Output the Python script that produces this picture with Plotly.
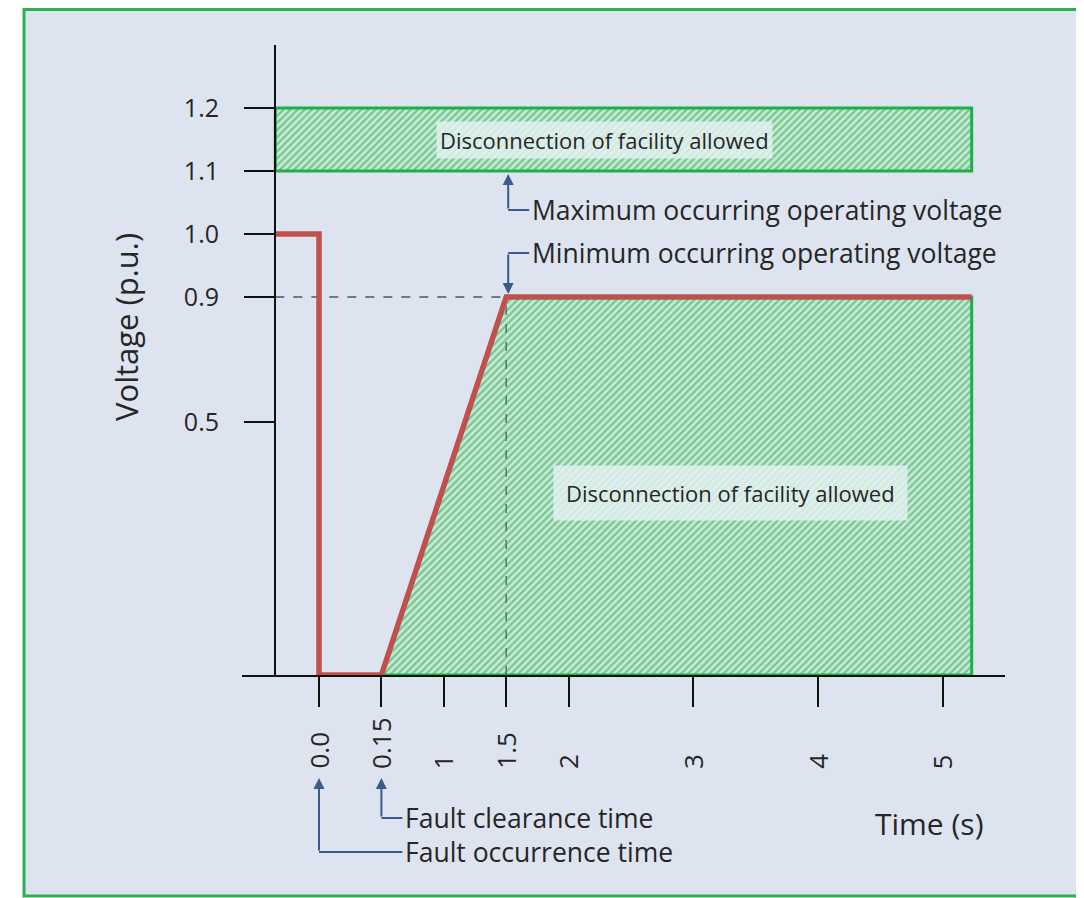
import numpy as np
import plotly.graph_objects as go

# ---------------- data ----------------
time_ticks = [0.0, 0.15, 1, 1.5, 2, 3, 4, 5]
time_tick_labels = ["0.0", "0.15", "1", "1.5", "2", "3", "4", "5"]
volt_ticks = [1.2, 1.1, 1.0, 0.9, 0.5]
volt_tick_labels = ["1.2", "1.1", "1.0", "0.9", "0.5"]

t_pre = -0.105      # start of the pre-fault period (drawn at the voltage axis)
t_end = 5.23        # end of the drawn period
curve_time = [t_pre, 0.0, 0.0, 0.15, 1.5, t_end]
curve_volt = [1.0, 1.0, 0.0, 0.0, 0.9, 0.9]

upper_band_time = [t_pre, t_end, t_end, t_pre, t_pre]
upper_band_volt = [1.1, 1.1, 1.2, 1.2, 1.1]

lower_region_time = [0.15, 1.5, t_end, t_end, 0.15]
lower_region_volt = [0.0, 0.9, 0.9, 0.0, 0.0]

v_min_op = 0.9
v_max_op = 1.1
t_fault = 0.0
t_clear = 0.15
t_recover = 1.5

# ---------------- schematic (piecewise) scales ----------------
TIME_KNOTS = [-0.105, 0.0, 0.15, 1.0, 6.0]
TIME_DISP = [-0.35, 0.0, 0.5, 1.0, 6.0]
VOLT_KNOTS = [0.0, 0.5, 0.9, 1.2, 1.5]
VOLT_DISP = [0.0, 2.53, 3.78, 5.67, 7.56]


def X(t):
    return np.interp(t, TIME_KNOTS, TIME_DISP)


def Y(v):
    return np.interp(v, VOLT_KNOTS, VOLT_DISP)


# plot-area geometry (page pixels; the page body has an 8px margin)
W, H = 1084, 898
OFF = 8
PL, PR, PT, PB = 242, 1005, 45, 675
ML, MR, MT, MB = PL - OFF, W - (PR - OFF), PT - OFF, H - (PB - OFF)
PW = PR - PL
PH = PB - PT
XR = [-0.617, 5.497]
YR = [0.0, 6.30]
XS = PW / (XR[1] - XR[0])   # px per x unit
YS = PH / (YR[1] - YR[0])   # px per y unit


def py_paper(py):
    return (PB - py) / PH


def px_paper(px):
    return (px - PL) / PW


FONT = "'Open Sans', Lato, sans-serif"
TXT = "#262626"
GREEN = "#22ad4b"
RED = "#c0504d"
NAVY = "#3b5b8c"

fig = go.Figure()

pattern = dict(shape="/", fgcolor="#3a9a58", bgcolor="#c4eed4", size=5, solidity=0.48)

fig.add_trace(go.Scatter(
    x=X(upper_band_time), y=Y(upper_band_volt), mode="lines", fill="toself",
    fillcolor="rgba(0,0,0,0)", fillpattern=pattern,
    line=dict(color=GREEN, width=3), hoverinfo="skip", showlegend=False))

fig.add_trace(go.Scatter(
    x=X(lower_region_time), y=Y(lower_region_volt), mode="lines", fill="toself",
    fillcolor="rgba(0,0,0,0)", fillpattern=pattern,
    line=dict(color=GREEN, width=3), hoverinfo="skip", showlegend=False))

# dashed guides
fig.add_trace(go.Scatter(
    x=X([t_pre, t_recover]), y=Y([v_min_op, v_min_op]), mode="lines",
    line=dict(color="#6f7a86", width=2, dash="dash"), hoverinfo="skip", showlegend=False))
fig.add_trace(go.Scatter(
    x=X([t_recover, t_recover]), y=Y([0.0, v_min_op]), mode="lines",
    line=dict(color="#4f7a5f", width=1.5, dash="dash"), hoverinfo="skip", showlegend=False))

# voltage curve
fig.add_trace(go.Scatter(
    x=X(curve_time), y=Y(curve_volt), mode="lines",
    line=dict(color=RED, width=5.5), hoverinfo="skip", showlegend=False))

shapes = []
annotations = []

# outer frame
shapes.append(dict(type="rect", xref="paper", yref="paper",
                   x0=px_paper(24), x1=px_paper(1080), y0=py_paper(896), y1=py_paper(9.5),
                   fillcolor="#dde4ef", line=dict(color="#2eb052", width=3), layer="below"))

# x tick labels (rotated, bottom aligned)
for t, lab in zip(time_ticks, time_tick_labels):
    annotations.append(dict(x=float(X(t)), xref="x", y=py_paper(771), yref="paper",
                            text=lab, textangle=-90, showarrow=False,
                            xanchor="center", yanchor="bottom",
                            font=dict(family=FONT, size=26, color=TXT)))

# axis titles
annotations.append(dict(x=px_paper(126), y=py_paper(327), xref="paper", yref="paper",
                        text="Voltage (p.u.)", textangle=-90, showarrow=False,
                        xanchor="center", yanchor="middle",
                        font=dict(family=FONT, size=31, color=TXT)))
annotations.append(dict(x=px_paper(929), y=py_paper(823), xref="paper", yref="paper",
                        text="Time (s)", showarrow=False,
                        xanchor="center", yanchor="middle",
                        font=dict(family=FONT, size=30, color=TXT)))

# region labels
box_font = dict(family=FONT, size=22, color=TXT)
annotations.append(dict(x=float(X(2.29)), y=float(Y(1.15)), xref="x", yref="y",
                        text="Disconnection of facility allowed", showarrow=False,
                        bgcolor="rgba(228,240,242,0.82)", borderpad=3, font=box_font))
annotations.append(dict(x=float(X(3.3)), y=float(Y(0.36)), xref="x", yref="y",
                        text="Disconnection of facility allowed", showarrow=False,
                        bgcolor="rgba(228,240,242,0.82)", borderpad=12, font=box_font))

# callouts
xr = float(X(t_recover)) + 2 / XS
callouts = [
    # (x tip, y tip, pixel offset of corner below (+) / above (-) the tip, text)
    (xr, float(Y(v_max_op)) - 3 / YS, 36, "Maximum occurring operating voltage"),
    (xr, float(Y(v_min_op)) + 3 / YS, -41, "Minimum occurring operating voltage"),
]
for xt, yt, dpy, txt in callouts:
    yc = yt - dpy / YS
    annotations.append(dict(x=xt, y=yt, xref="x", yref="y", ax=0, ay=dpy,
                            text="", showarrow=True, arrowhead=2, arrowsize=1.1,
                            arrowwidth=2, arrowcolor=NAVY, standoff=0, startstandoff=0))
    shapes.append(dict(type="line", xref="x", yref="y", x0=xt, x1=xt + 21 / XS, y0=yc, y1=yc,
                       line=dict(color=NAVY, width=2)))
    annotations.append(dict(x=xt + 22 / XS, y=yc, xref="x", yref="y", text=txt,
                            showarrow=False, xanchor="left", yanchor="middle",
                            font=dict(family=FONT, size=26.5, color=TXT)))

bottom_callouts = [
    (t_clear, 818, "Fault clearance time"),
    (t_fault, 852, "Fault occurrence time"),
]
TIP_PY = 778
for t, pyc, txt in bottom_callouts:
    xt = float(X(t))
    annotations.append(dict(x=xt, y=py_paper(TIP_PY), xref="x", yref="paper",
                            ax=0, ay=pyc - TIP_PY,
                            text="", showarrow=True, arrowhead=2, arrowsize=1.1,
                            arrowwidth=2, arrowcolor=NAVY, standoff=0, startstandoff=0))
    shapes.append(dict(type="line", xref="x", yref="paper", x0=xt, x1=float(X(0.15)) + 21 / XS,
                       y0=py_paper(pyc), y1=py_paper(pyc), line=dict(color=NAVY, width=2)))
    annotations.append(dict(x=float(X(0.15)) + 22 / XS, y=py_paper(pyc), xref="x", yref="paper",
                            text=txt, showarrow=False, xanchor="left", yanchor="middle",
                            font=dict(family=FONT, size=26.5, color=TXT)))

fig.update_layout(
    width=W, height=H,
    margin=dict(l=ML, r=MR, t=MT, b=MB, pad=0),
    paper_bgcolor="white", plot_bgcolor="rgba(0,0,0,0)",
    showlegend=False,
    shapes=shapes, annotations=annotations,
    xaxis=dict(range=XR, showline=True, linecolor="#111111", linewidth=2,
               ticks="outside", ticklen=30, tickwidth=2, tickcolor="#111111",
               tickvals=[float(v) for v in X(time_ticks)], showticklabels=False,
               showgrid=False, zeroline=False, fixedrange=True),
    yaxis=dict(range=YR, anchor="free", position=px_paper(275),
               showline=True, linecolor="#111111", linewidth=2,
               ticks="outside", ticklen=30, tickwidth=2, tickcolor="#111111",
               tickvals=[float(v) for v in Y(volt_ticks)], ticktext=volt_tick_labels,
               tickfont=dict(family=FONT, size=25, color=TXT), ticklabelstandoff=20,
               showgrid=False, zeroline=False, fixedrange=True),
)

fig.write_html("out.html")
